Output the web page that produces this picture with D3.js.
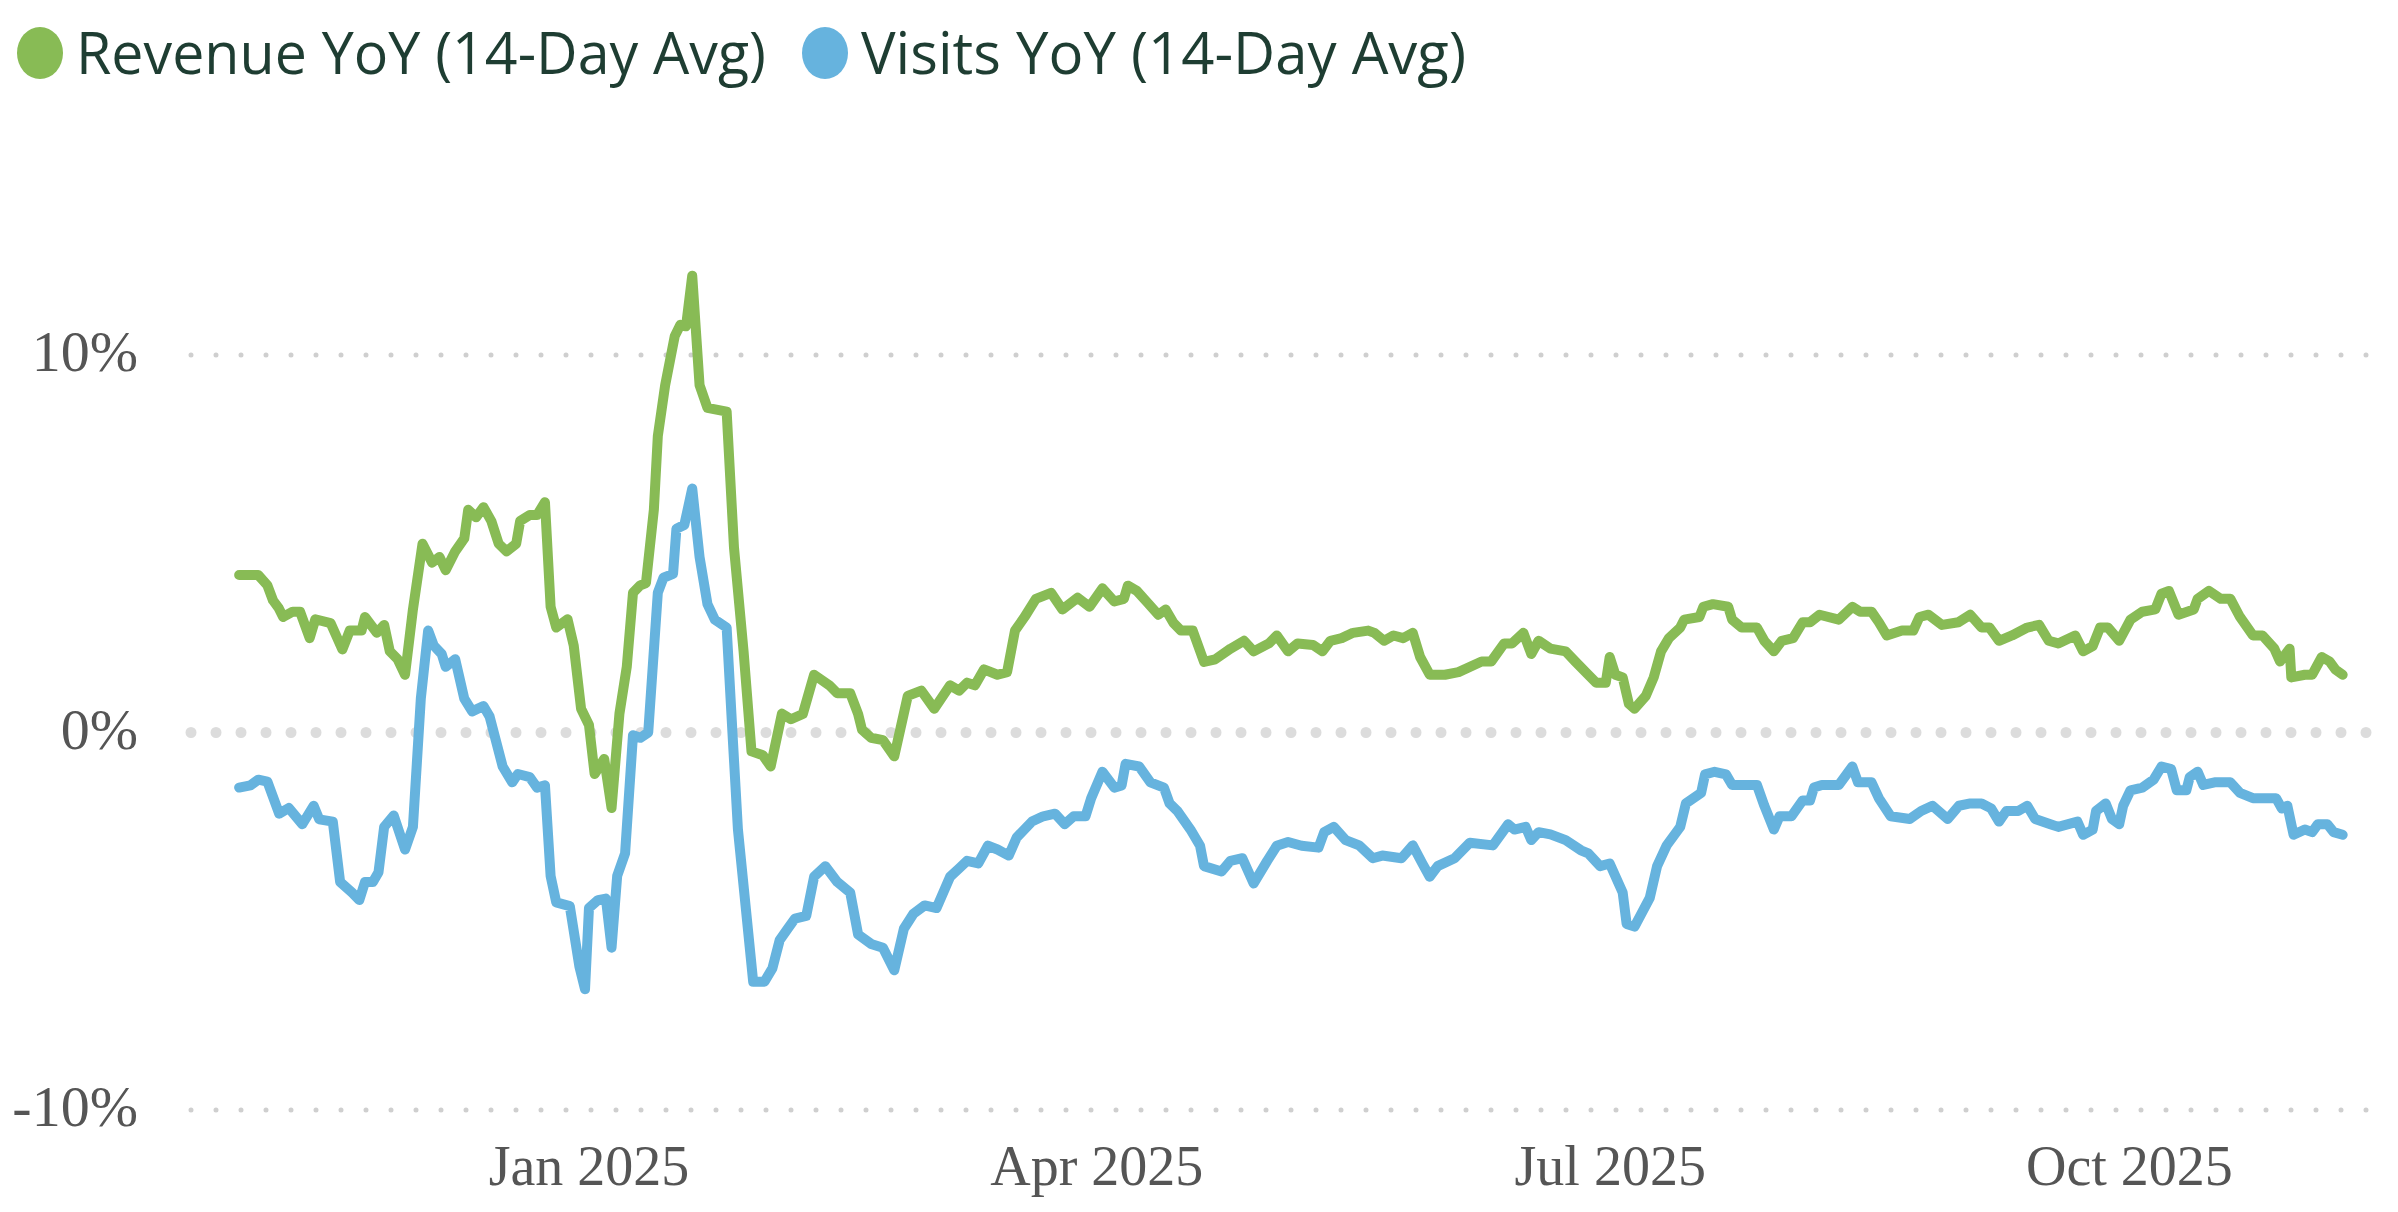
<!DOCTYPE html>
<html>
<head>
<meta charset="utf-8">
<script src="https://cdn.jsdelivr.net/npm/d3@7"></script>
<style>
  body { margin: 0; background: #fff; }
</style>
</head>
<body>
<script>
// days from 2025-01-01, values in %
var revDays = [-62,-58.6,-57,-56,-55,-54.2,-52.5,-51.2,-49.5,-48.5,-45.8,-43.7,-42.4,-40.3,-39.7,-37.6,-36.3,-35.3,-33.9,-32.6,-31.2,-29.5,-27.8,-26.5,-25.4,-23.7,-22.1,-21.4,-20,-18.7,-17.3,-16,-14.6,-12.9,-12.2,-10.5,-9.2,-7.8,-6.8,-5.8,-3.8,-2.7,-1.4,0,1,2.7,4,5.4,6.7,7.8,9.1,10.1,11.5,12.2,13.5,15.2,16.2,17.2,18.3,19.6,21,24.4,25.7,27.4,28.8,30.8,32.2,34.2,
  35.8,37.9,39.9,42.6,44,46.3,47.7,48.4,50,52.1,54.1,56.5,58.9,61.2,64,65.6,67,68.4,70,72.4,74.1,75.5,77.2,79.2,81.9,83.9,86.6,88.7,91,93.1,94.8,95.5,97.1,98.8,100.9,102.2,103.6,104.9,107,109,111,113.7,116.1,117.8,120.5,121.9,123.9,125.6,128.3,130,131.4,133.4,135.4,
  138.1,139.2,140.9,142.6,144.3,146,147.3,149,151.7,154.1,158.2,159.9,162.2,163.6,165.6,167,168.3,170.4,173.1,174.8,177.1,178.5,180.2,180.9,181.9,183.2,184.3,185.3,187.3,188.7,190,191.4,193.4,194.1,196.8,197.5,199.2,201.9,202.6,204.3,207,208.3,210,211.4,213.4,215.1,216.4,218.1,221.5,223.9,225.3,227.3,228.6,230,232.7,234.7,235.8,237.4,239.8,242.7,
  244.8,246.8,248.2,249.9,252.2,254.9,257,258.7,260.4,263.4,264.8,266.5,267.8,269.2,271.2,273.2,275.3,277.6,278.7,280,281.7,284.4,285.1,287.1,289.2,290.9,292.6,294.9,296.6,298.7,299.7,301.4,301.7,304.1,305.4,307.1,308.5,309.5,310.8];
var revVals = [4.17,4.17,3.9,3.5,3.3,3.06,3.2,3.2,2.5,3.0,2.9,2.2,2.7,2.7,3.06,2.64,2.85,2.15,1.94,1.53,3.26,5.0,4.5,4.65,4.3,4.8,5.14,5.9,5.7,5.97,5.6,5.0,4.8,5.0,5.6,5.76,5.76,6.1,3.33,2.78,3.0,2.3,0.63,0.2,-1.1,-0.7,-2.0,0.5,1.74,3.7,3.9,3.96,5.9,7.85,9.2,10.5,10.8,10.76,12.1,9.2,8.6,8.5,4.9,2.15,-0.5,-0.6,-0.9,0.5,
  0.35,0.49,1.53,1.25,1.04,1.04,0.49,0.07,-0.14,-0.2,-0.63,0.97,1.11,0.63,1.25,1.11,1.32,1.25,1.67,1.53,1.6,2.7,3.06,3.54,3.7,3.26,3.57,3.33,3.82,3.47,3.54,3.89,3.75,3.47,3.12,3.26,2.9,2.7,2.7,1.87,1.94,2.22,2.43,2.15,2.36,2.57,2.15,2.36,2.32,2.15,2.43,2.5,2.64,
  2.7,2.64,2.43,2.57,2.5,2.64,2.0,1.53,1.53,1.6,1.88,1.88,2.36,2.36,2.64,2.08,2.43,2.22,2.15,1.88,1.53,1.32,1.32,2.0,1.53,1.46,0.76,0.63,0.97,1.46,2.15,2.5,2.78,2.99,3.06,3.33,3.4,3.33,2.99,2.78,2.78,2.43,2.15,2.43,2.5,2.92,2.92,3.12,2.99,3.33,3.2,3.2,2.92,2.57,2.7,2.7,3.06,3.12,2.85,2.92,
  3.12,2.78,2.78,2.43,2.57,2.78,2.85,2.43,2.36,2.57,2.15,2.29,2.78,2.78,2.43,2.99,3.2,3.26,3.68,3.75,3.12,3.26,3.54,3.75,3.54,3.54,3.06,2.57,2.57,2.22,1.88,2.22,1.46,1.53,1.53,2.0,1.88,1.67,1.53];

var visDays = [-62,-60,-58.6,-57,-54.9,-53.2,-50.8,-48.8,-47.8,-45.4,-44.1,-42,-40.7,-39.7,-38.3,-37.3,-36.3,-34.6,-32.6,-31.2,-29.8,-28.5,-27.5,-26.1,-25.4,-23.7,-22.1,-20.7,-18.7,-17.6,-15.3,-13.6,-12.6,-10.5,-9.2,-7.8,-6.8,-5.8,-3.4,-1.7,-0.7,0,1.6,3,4,5,6.4,7.8,9.1,10.5,12.2,13.2,14.9,15.5,16.9,18.3,19.6,21,22.3,24.4,25.4,26.4,29.1,31.1,32.5,33.8,
  35.2,36.5,38.5,39.9,41.9,44,46.3,47.7,50,52.1,54.1,55.8,57.5,59.5,61.6,64,65.6,67,69,70.7,72.4,74.4,75.8,78.5,80.5,82.6,84.3,85.9,88,89,91,93.1,94.4,95.1,97.5,99.5,101.9,102.9,104.3,106.6,108.3,109,112.1,113.7,115.8,117.8,120.2,121.9,123.9,126.3,129.3,130.3,132,134.1,
  136.5,138.9,140.6,144,146,147.7,149,150.4,153.4,156.1,160.2,162.9,164,166,167,168.3,170.4,173.1,175.8,177.1,179.2,180.9,183.2,183.9,185.3,188,189.3,191,193.4,194.4,197.1,197.8,199.5,201.5,202.6,207,208.3,210,211,213.1,215.1,216.4,217.1,218.5,221.5,223.9,224.9,227.3,228.6,230.7,234.1,236.1,238.1,240.8,
  242.8,244.8,246.8,248.5,249.9,251.2,253.3,254.9,256.3,259,260.4,263.8,264.8,266.5,267.1,268.8,269.9,271.2,271.9,273.2,275.3,277.3,278.7,280.4,281.4,283.1,283.7,285.1,286.1,288.1,290.9,292.6,294.9,297.3,299,300,301,302.1,304.1,305.4,306.4,308.1,309.2,310.8];
var visVals = [-1.46,-1.4,-1.25,-1.3,-2.15,-2.0,-2.43,-1.94,-2.3,-2.36,-3.96,-4.24,-4.44,-3.96,-3.96,-3.7,-2.5,-2.2,-3.1,-2.5,0.9,2.7,2.3,2.08,1.74,1.94,0.9,0.56,0.7,0.42,-0.9,-1.32,-1.1,-1.18,-1.46,-1.4,-3.8,-4.5,-4.6,-6.2,-6.8,-4.65,-4.44,-4.4,-5.7,-3.8,-3.2,-0.07,-0.14,0,3.7,4.1,4.2,5.4,5.5,6.46,4.65,3.4,2.99,2.78,0.07,-2.57,-6.6,-6.6,-6.25,-5.5,
  -5.2,-4.93,-4.86,-3.82,-3.54,-3.96,-4.24,-5.35,-5.6,-5.7,-6.3,-5.2,-4.8,-4.58,-4.65,-3.82,-3.6,-3.4,-3.47,-3.0,-3.1,-3.26,-2.78,-2.36,-2.22,-2.15,-2.43,-2.22,-2.22,-1.74,-1.04,-1.46,-1.4,-0.83,-0.9,-1.32,-1.46,-1.88,-2.08,-2.57,-3.0,-3.54,-3.68,-3.4,-3.33,-4.0,-3.4,-3.0,-2.9,-3.0,-3.05,-2.64,-2.5,-2.85,
  -2.99,-3.33,-3.26,-3.33,-2.99,-3.47,-3.82,-3.54,-3.33,-2.92,-2.99,-2.43,-2.57,-2.5,-2.85,-2.64,-2.7,-2.85,-3.12,-3.2,-3.54,-3.47,-4.24,-5.07,-5.14,-4.38,-3.54,-2.99,-2.5,-1.88,-1.6,-1.11,-1.04,-1.11,-1.39,-1.39,-1.94,-2.57,-2.22,-2.22,-1.8,-1.8,-1.46,-1.39,-1.39,-0.9,-1.32,-1.32,-1.74,-2.22,-2.29,-2.08,-1.94,-2.29,
  -1.94,-1.88,-1.88,-2.01,-2.36,-2.08,-2.08,-1.94,-2.29,-2.43,-2.5,-2.36,-2.71,-2.57,-2.08,-1.88,-2.29,-2.43,-1.94,-1.53,-1.46,-1.25,-0.9,-0.97,-1.53,-1.53,-1.18,-1.04,-1.39,-1.32,-1.32,-1.6,-1.74,-1.74,-1.74,-2.01,-1.94,-2.71,-2.57,-2.64,-2.43,-2.43,-2.64,-2.71];

var seriesNames = ["Revenue YoY (14-Day Avg)", "Visits YoY (14-Day Avg)"];
var seriesColors = ["#88bb55", "#66b3de"];
var tickDates = ["2025-01-01", "2025-04-01", "2025-07-01", "2025-10-01"];
var tickLabels = ["Jan 2025", "Apr 2025", "Jul 2025", "Oct 2025"];
var yTicks = [-10, 0, 10];

var W = 2398, H = 1212;
var base = Date.UTC(2025, 0, 1);
function toDate(d) { return new Date(base + d * 864e5); }

var svg = d3.select("body").append("svg")
    .attr("width", W).attr("height", H);

var x = d3.scaleUtc()
    .domain([toDate(-70), toDate(316)])
    .range([194, 2372]);
var y = d3.scaleLinear().domain([-10, 10]).range([1110, 355]);

// grid
svg.selectAll(".grid").data(yTicks).enter().append("line")
    .attr("x1", 191).attr("x2", 2372)
    .attr("y1", function(d) { return y(d); })
    .attr("y2", function(d) { return y(d); })
    .attr("stroke", function(d) { return d === 0 ? "#dcdcdc" : "#cfcfcf"; })
    .attr("stroke-width", function(d) { return d === 0 ? 11 : 5; })
    .attr("stroke-linecap", "round")
    .attr("stroke-dasharray", "0 25");

svg.selectAll(".ylab").data(yTicks).enter().append("text")
    .attr("x", 138).attr("y", function(d) { return y(d) + 16; })
    .attr("text-anchor", "end")
    .attr("font-family", "Liberation Serif, serif")
    .attr("font-size", 58).attr("fill", "#555")
    .text(function(d) { return d + "%"; });

svg.selectAll(".xlab").data(tickDates).enter().append("text")
    .attr("x", function(d) { return x(new Date(d + "T00:00:00Z")); })
    .attr("y", 1185)
    .attr("text-anchor", "middle")
    .attr("font-family", "Liberation Serif, serif")
    .attr("font-size", 56).attr("fill", "#555")
    .text(function(d, i) { return tickLabels[i]; });

var line = d3.line()
    .x(function(p) { return x(toDate(p[0])); })
    .y(function(p) { return y(p[1]); });

var series = [d3.zip(revDays, revVals), d3.zip(visDays, visVals)];
[1, 0].forEach(function(i) {
  svg.append("path")
      .datum(series[i])
      .attr("d", line)
      .attr("fill", "none")
      .attr("stroke", seriesColors[i])
      .attr("stroke-width", 10)
      .attr("stroke-linejoin", "round")
      .attr("stroke-linecap", "round");
});

// legend
var legX = [40, 825], legLen = [690, 605];
seriesNames.forEach(function(n, i) {
  svg.append("ellipse").attr("cx", legX[i]).attr("cy", 53)
      .attr("rx", 23).attr("ry", 26).attr("fill", seriesColors[i]);
  svg.append("text").attr("x", legX[i] + 36).attr("y", 74)
      .attr("font-family", "Open Sans, sans-serif")
      .attr("font-size", 58).attr("fill", "#1e3d32")
      .attr("textLength", legLen[i]).attr("lengthAdjust", "spacingAndGlyphs")
      .text(n);
});
</script>
</body>
</html>
